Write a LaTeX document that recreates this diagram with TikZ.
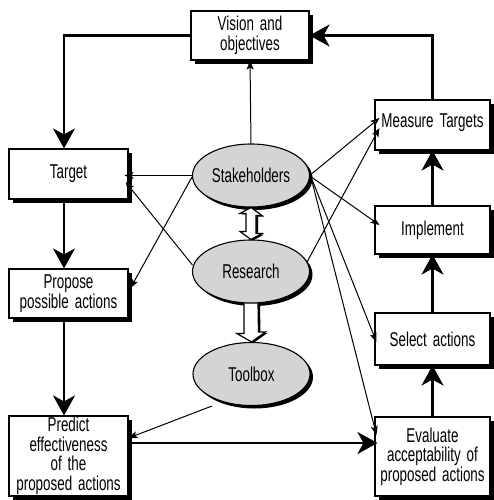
\documentclass[tikz,border=0pt]{standalone}
\usepackage{fontspec}
\setmainfont{Liberation Sans}[FakeStretch=0.67, WordSpace=1.6]
\usetikzlibrary{shapes.geometric,shadows,arrows.meta,calc}
\newcommand\dfont{\fontsize{20}{19.5}\selectfont}
\definecolor{ovalgrey}{RGB}{212,212,212}
\tikzset{
  rbox/.style={draw, line width=1.1pt, fill=white, align=center, inner sep=0pt,
    font=\dfont, drop shadow={shadow xshift=4pt, shadow yshift=-4pt, fill=black, opacity=1}},
  oval/.style={ellipse, draw, line width=1.1pt, fill=ovalgrey, inner sep=0pt,
    minimum width=117, minimum height=63, font=\dfont,
    drop shadow={shadow xshift=3pt, shadow yshift=-3pt, fill=black, opacity=1}},
  thick arrow/.style={line width=2.6pt, -{Stealth[length=20pt,width=22pt,inset=6pt]}},
  thin arrow/.style={line width=1pt, -{Stealth[length=9pt,width=7pt,inset=2pt]}},
  block arrow/.style={draw, line width=1.2pt, fill=white, line join=miter,
    drop shadow={shadow xshift=2pt, shadow yshift=-1pt, fill=black, opacity=1}}
}
\begin{document}
\begin{tikzpicture}[x=1pt,y=-1pt]
\useasboundingbox (0,0) rectangle (493,500);
% boxes
\node[rbox, minimum width=118, minimum height=49] (vis) at (250,35.5) {Vision and\\objectives};
\node[rbox, minimum width=119, minimum height=50] (tgt) at (68.5,174) {Target};
\node[rbox, minimum width=119, minimum height=49] (prop) at (68.5,293.5) {Propose\\possible actions};
\node[rbox, minimum width=119, minimum height=80] (pred) at (68.5,456) {Predict\\effectiveness\\of the\\proposed actions};
\node[rbox, minimum width=115, minimum height=50] (mt) at (432.5,125) {\raisebox{8pt}{Measure Targets}};
\node[rbox, minimum width=115, minimum height=48] (imp) at (432.5,230) {Implement};
\node[rbox, minimum width=115, minimum height=52] (sel) at (432.5,339) {Select actions};
\node[rbox, minimum width=115, minimum height=79] (eva) at (432.5,456.5) {Evaluate\\acceptability of\\proposed actions};
% ovals
\node[oval] (sh) at (251,175.5) {Stakeholders};
\node[oval] (res) at (251,271.5) {Research};
\node[oval] (tb) at (251.5,374) {Toolbox};
% helper coordinates
\coordinate (yPE) at (0,443);
\coordinate (xL) at (64,0);
% thick flow arrows
\draw[thick arrow] (vis.west) -| (xL |- tgt.north);
\draw[thick arrow] (mt.north) |- (vis.east);
\draw[thick arrow] (xL |- tgt.south) -- (xL |- prop.north);
\draw[thick arrow] (xL |- prop.south) -- (xL |- pred.north);
\draw[thick arrow] (pred.east |- yPE) -- ($(eva.west |- yPE)+(3,0)$);
\draw[thick arrow] (eva.north) -- (sel.south);
\draw[thick arrow] (sel.north) -- (imp.south);
\draw[thick arrow] (imp.north) -- (mt.south);
% thin arrows
\draw[thin arrow] (sh.north) -- (vis.south);
\draw[thin arrow] (sh.west) -- ($(tgt.east |- sh.west)+(-4,0)$);
\draw[thin arrow] ($(res.west)+(0.5,-6.5)$) -- ($(tgt.east)+(-3,8)$);
\draw[thin arrow] ($(sh.west)+(0,1.5)$) -- ($(prop.east)+(2,-5.5)$);
\draw[thin arrow] ($(sh.east)+(2,-2)$) -- ($(mt.west)+(5,-7)$);
\draw[thin arrow] (307,262) -- ($(mt.west)+(5,3)$);
\draw[thin arrow] ($(sh.east)+(2,2)$) -- ($(imp.west)+(5,-5)$);
\draw[thin arrow] ($(sh.east)+(2,4)$) -- ($(sel.west)+(2,3)$);
\draw[thin arrow] ($(sh.east)+(2,6)$) -- ($(eva.west)+(2,-21.5)$);
\draw[thin arrow] (212,406) -- ($(pred.east)+(0,-18)$);
% block arrows
\path[block arrow] (sh.south)
  -- ++(11,8) -- ++(-6,0) -- ++(0,18) -- ++(6,0)
  -- (res.north) -- ++(-11,-8) -- ++(6,0) -- ++(0,-18) -- ++(-6,0) -- cycle;
\path[block arrow] ($(res.south)+(-7,0)$) -- ++(0,30) -- ++(-7,0)
  -- (tb.north) -- ++(14,-10) -- ++(-7,0) -- ($(res.south)+(7,0)$);
\end{tikzpicture}
\end{document}
